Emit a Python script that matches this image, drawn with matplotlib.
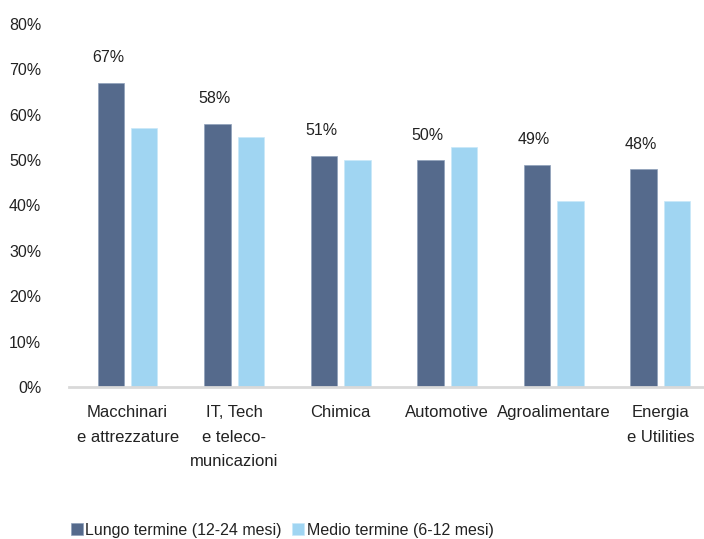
import matplotlib
matplotlib.use("Agg")
import matplotlib.pyplot as plt
import numpy as np

categories = ["Macchinari\ne attrezzature", "IT, Tech\ne teleco-\nmunicazioni", "Chimica",
              "Automotive", "Agroalimentare", "Energia\ne Utilities"]
lungo = [67, 58, 51, 50, 49, 48]
medio = [57, 55, 50, 53, 41, 41]
series_names = ["Lungo termine (12-24 mesi)", "Medio termine (6-12 mesi)"]
yticks = [0, 10, 20, 30, 40, 50, 60, 70, 80]

plt.rcParams['font.family'] = ['Liberation Sans', 'DejaVu Sans']

dark = "#556A8C"
light = "#A0D5F2"
txt = "#222222"

fig = plt.figure(figsize=(7.04, 5.39), dpi=100)
ax = fig.add_axes([69/704, 1-387/539, 1-69/704, (387-24)/539])

x = np.arange(len(categories))
w = 0.248
off = 0.156
ax.bar(x - off, lungo, w, color=dark, label=series_names[0], edgecolor="#8FA0BA", linewidth=0.5)
ax.bar(x + off, medio, w, color=light, label=series_names[1], edgecolor="#C8E8F8", linewidth=0.5)

for xi, v in zip(x, lungo):
    ax.annotate(f"{v}%", (xi - off, v), xytext=(-3, 25), textcoords="offset pixels",
                ha="center", va="center", fontsize=11.5, color=txt)

ax.set_xlim(-0.55, 5.41)
ax.set_ylim(0, 80)
ax.set_yticks(yticks)
ax.set_yticklabels([f"{t}%" for t in yticks], fontsize=11.5, color=txt)
ax.set_xticks(x)
ax.set_xticklabels(categories, fontsize=12, color=txt, linespacing=1.8)
ax.tick_params(axis='y', length=0, pad=20)
ax.tick_params(axis='x', length=0, pad=13)
for s in ["top", "right", "left"]:
    ax.spines[s].set_visible(False)
ax.spines["bottom"].set_color("#D9D9D9")
ax.spines["bottom"].set_linewidth(2)

handles, labels = ax.get_legend_handles_labels()
leg = fig.legend(handles, labels, loc="center left", bbox_to_anchor=(71/704, 1-530/539),
                 ncol=2, frameon=False, fontsize=11.5, handlelength=0.75, handleheight=0.75,
                 handletextpad=0.15, columnspacing=0.65, borderaxespad=0, borderpad=0)
for t in leg.get_texts():
    t.set_color(txt)

fig.savefig("out.png", dpi=100)
